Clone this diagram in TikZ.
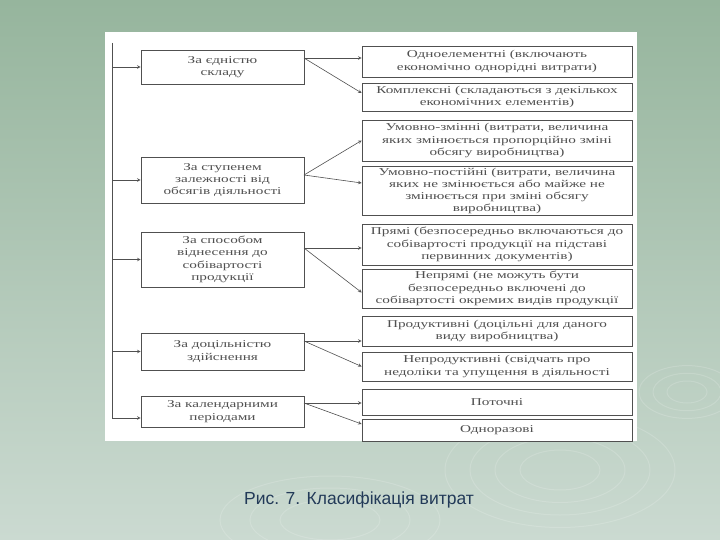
\documentclass[tikz,border=0pt]{standalone}
\usepackage{fontspec}
\setmainfont{Liberation Serif}
\newfontfamily\scanfont[FakeStretch=1.45]{Liberation Serif}
\newfontfamily\capfont{Liberation Sans}
\usepackage{tikz}
\usetikzlibrary{arrows,positioning}

\definecolor{slidetop}{RGB}{150,181,157}
\definecolor{slidebot}{RGB}{203,218,209}
\definecolor{ink}{RGB}{80,80,80}
\definecolor{capblue}{RGB}{34,58,88}

\begin{document}
\begin{tikzpicture}[x=1pt, y=-1pt, >=stealth,
  kind/.style = {draw=ink, line width=0.7pt, text=ink, align=center, inner sep=1pt,
    font=\scanfont\fontsize{10.5}{12.3}\selectfont},
  group/.style = {kind, minimum width=163pt},
  item/.style = {kind, minimum width=270pt},
  arr/.style = {->, draw=ink, line width=0.6pt},
  ripple/.style = {draw=white, opacity=0.16, line width=1pt}]
\useasboundingbox (0,0) rectangle (720,540);
% slide
\shade [top color=slidetop, bottom color=slidebot] (0,0) rectangle (720,540);
\foreach \r in {20,34,48} \draw [ripple] (687,392) ellipse [x radius=\r, y radius=0.55*\r];
\foreach \r in {40,65,90,115} \draw [ripple] (560,470) ellipse [x radius=\r, y radius=0.5*\r];
\foreach \r in {50,80,110} \draw [ripple] (330,520) ellipse [x radius=\r, y radius=0.4*\r];
\fill [white] (105,32) rectangle (637,441);

% groups
\node [group, minimum height=34pt] (l1) at (222.5,67) {За єдністю\\складу};
\node [group, minimum height=46pt] (l2) at (222.5,180) {За ступенем\\залежності від\\обсягів діяльності};
\node [group, minimum height=55pt] (l3) at (222.5,259.5) {За способом\\віднесення до\\собівартості\\продукції};
\node [group, minimum height=37pt] (l4) at (222.5,351.5) {За доцільністю\\здійснення};
\node [group, minimum height=31pt] (l5) at (222.5,411.5) {За календарними\\періодами};

% items
\node [item, minimum height=31pt] (r1) at (497,61.5) {Одноелементні (включають\\економічно однорідні витрати)};
\node [item, minimum height=28pt] (r2) at (497,97) {Комплексні (складаються з декількох\\економічних елементів)};
\node [item, minimum height=41pt] (r3) at (497,140.5) {Умовно-змінні (витрати, величина\\яких змінюється пропорційно зміні\\обсягу виробництва)};
\node [item, minimum height=48pt] (r4) at (497,191) {Умовно-постійні (витрати, величина\\яких не змінюється або майже не\\змінюється при зміні обсягу\\виробництва)};
\node [item, minimum height=41pt] (r5) at (497,244.5) {Прямі (безпосередньо включаються до\\собівартості продукції на підставі\\первинних документів)};
\node [item, minimum height=39pt] (r6) at (497,288.5) {Непрямі (не можуть бути\\безпосередньо включені до\\собівартості окремих видів продукції};
\node [item, minimum height=30pt] (r7) at (497,331) {Продуктивні (доцільні для даного\\виду виробництва)};
\node [item, minimum height=29pt] (r8) at (497,366.5) {Непродуктивні (свідчать про\\недоліки та упущення в діяльності};
\node [item, minimum height=26pt] (r9) at (497,402) {Поточні};
\node [item, minimum height=22pt] (r10) at (497,430) {Одноразові};

% trunk
\coordinate (top) at (112,43);
\coordinate (bot) at (112,418);
\draw [draw=ink, line width=0.7pt] (top) -- (bot);
\foreach \g in {l1,l2,l3,l4}
  \draw [arr] (top |- \g.west) -- (\g.west);
\draw [arr] (bot) -- (bot -| l5.west);

% branches
\coordinate (s1) at (304,58);
\coordinate (s2) at (304,175);
\coordinate (s3) at (304,248);
\coordinate (s4) at (304,341);
\coordinate (s5) at (304,403);
\draw [arr] (s1) -- (s1 -| r1.west);
\draw [arr] (s1) -- ([yshift=4pt]r2.west);
\draw [arr] (s2) -- (r3.west);
\draw [arr] (s2) -- ([yshift=8pt]r4.west);
\draw [arr] (s3) -- (s3 -| r5.west);
\draw [arr] (s3) -- ([yshift=-4pt]r6.west);
\draw [arr] (s4) -- (s4 -| r7.west);
\draw [arr] (s4) -- (r8.west);
\draw [arr] (s5) -- (s5 -| r9.west);
\draw [arr] (s5) -- ([yshift=6pt]r10.west);

% caption
\node [text=capblue, font=\capfont\fontsize{17.5}{20}\selectfont] (cap) at (359,500) {Рис. 7. Класифікація витрат};
\end{tikzpicture}
\end{document}
